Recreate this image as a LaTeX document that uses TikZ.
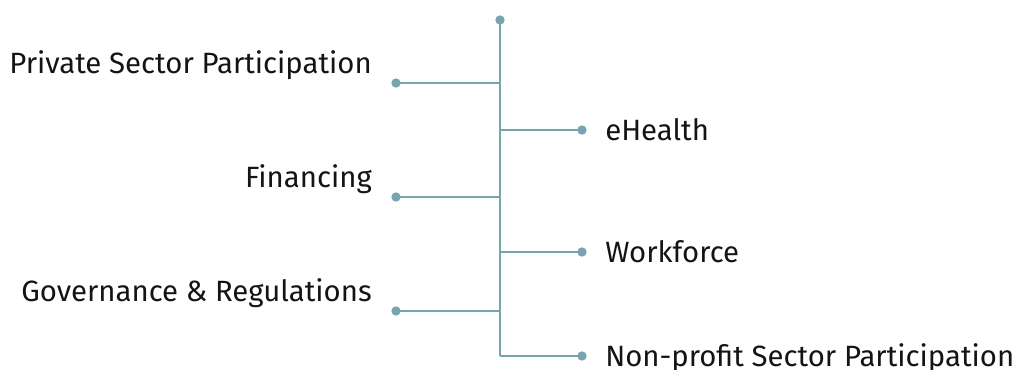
\documentclass[tikz,border=0pt]{standalone}
\usepackage{fontspec}
\setmainfont{Fira Sans}
\definecolor{branch}{HTML}{78A4AD}
\begin{document}
\begin{tikzpicture}[x=0.75pt,y=-0.75pt,
  stem/.style={draw=branch,line width=1.6pt},
  tip/.style={circle,fill=branch,inner sep=0pt,minimum size=7pt},
  lbl/.style={font=\fontsize{22}{26}\selectfont,text=black!92,inner sep=0pt}]
\useasboundingbox (0,0) rectangle (1015,369);
% trunk
\node[tip] (top) at (500,20) {};
\coordinate (bottom) at (500,356);
\draw[stem] (top.center) -- (bottom);
% left branches
\node[tip] (l1) at (396,83) {};
\node[tip] (l2) at (396,197) {};
\node[tip] (l3) at (396,311) {};
\draw[stem] (l1.center) -- (500,83);
\draw[stem] (l2.center) -- (500,197);
\draw[stem] (l3.center) -- (500,311);
\node[lbl,anchor=base east] (t1) at (372,73) {Private Sector Participation};
\node[lbl,anchor=base east] (t2) at (372,187) {Financing};
\node[lbl,anchor=base east] (t3) at (372,301) {Governance \& Regulations};
% right branches
\node[tip] (r1) at (582,130) {};
\node[tip] (r2) at (582,252) {};
\node[tip] (r3) at (582,356) {};
\draw[stem] (500,130) -- (r1.center);
\draw[stem] (500,252) -- (r2.center);
\draw[stem] (bottom) -- (r3.center);
\node[lbl,anchor=base west] (t4) at (605,140) {eHealth};
\node[lbl,anchor=base west] (t5) at (605,262) {Workforce};
\node[lbl,anchor=base west] (t6) at (605,366) {Non-profit Sector Participation};
\end{tikzpicture}
\end{document}
